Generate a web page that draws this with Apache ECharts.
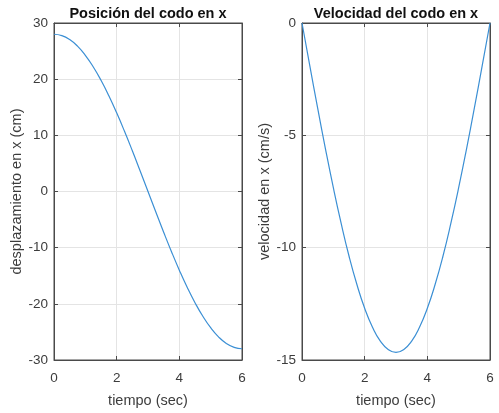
<!DOCTYPE html>
<html><head><meta charset="utf-8">
<script src="https://cdn.jsdelivr.net/npm/echarts@6/dist/echarts.min.js"></script>
<style>html,body{margin:0;padding:0;background:#fff}#c{width:499px;height:413px}</style>
</head><body><div id="c"></div>
<script>
var tiempo = [0,0.25,0.5,0.75,1,1.25,1.5,1.75,2,2.25,2.5,2.75,3,3.25,3.5,3.75,4,4.25,4.5,4.75,5,5.25,5.5,5.75,6];
var posicion = [28,27.76,27.05,25.87,24.25,22.21,19.8,17.05,14.0,10.72,7.25,3.65,0,-3.65,-7.25,-10.72,-14.0,-17.05,-19.8,-22.21,-24.25,-25.87,-27.05,-27.76,-28];
var velocidad = [0,-1.91,-3.79,-5.61,-7.33,-8.92,-10.37,-11.63,-12.7,-13.54,-14.16,-14.53,-14.66,-14.53,-14.16,-13.54,-12.7,-11.63,-10.37,-8.92,-7.33,-5.61,-3.79,-1.91,0];
var titulos = ['Posición del codo en x','Velocidad del codo en x'];
var yNombres = ['desplazamiento en x (cm)','velocidad en x (cm/s)'];
var xNombre = 'tiempo (sec)';

var F = 'Liberation Sans, Arial, Helvetica, sans-serif';
var axisCol = '#4a4a4a';
var labCol = '#3c3c3c';
var gridCol = '#e4e4e4';
function pairs(x,y){return x.map(function(v,i){return [v,y[i]];});}
var grids = [
  {left:54,top:23,width:188,height:340,show:true,borderColor:axisCol,borderWidth:1,containLabel:false},
  {left:302,top:23,width:188,height:340,show:true,borderColor:axisCol,borderWidth:1,containLabel:false}
];
function xMain(gi){return {gridIndex:gi,type:'value',min:0,max:6,interval:2,position:'bottom',
  name:xNombre,nameLocation:'middle',nameGap:33,nameTextStyle:{fontFamily:F,fontSize:14.5,color:labCol},
  axisLine:{show:true,onZero:false,lineStyle:{color:axisCol}},axisTick:{inside:true,length:4,lineStyle:{color:axisCol}},
  axisLabel:{fontFamily:F,fontSize:13.5,color:labCol,margin:11},
  splitLine:{show:true,lineStyle:{color:gridCol,width:1}}};}
function xTop(gi){return {gridIndex:gi,type:'value',min:0,max:6,interval:2,position:'top',
  axisLine:{show:true,onZero:false,lineStyle:{color:axisCol}},axisTick:{inside:true,length:4,lineStyle:{color:axisCol}},
  axisLabel:{show:false},splitLine:{show:false}};}
function yMain(gi,min,max,iv,name,gap){return {gridIndex:gi,type:'value',min:min,max:max,interval:iv,position:'left',
  name:name,nameLocation:'middle',nameGap:gap,nameTextStyle:{fontFamily:F,fontSize:14.5,color:labCol},
  axisLine:{show:true,onZero:false,lineStyle:{color:axisCol}},axisTick:{inside:true,length:4,lineStyle:{color:axisCol}},
  axisLabel:{fontFamily:F,fontSize:13.5,color:labCol,margin:6},
  splitLine:{show:true,lineStyle:{color:gridCol,width:1}}};}
function yRight(gi,min,max,iv){return {gridIndex:gi,type:'value',min:min,max:max,interval:iv,position:'right',
  axisLine:{show:true,onZero:false,lineStyle:{color:axisCol}},axisTick:{inside:true,length:4,lineStyle:{color:axisCol}},
  axisLabel:{show:false},splitLine:{show:false}};}
var chart = echarts.init(document.getElementById('c'),null,{renderer:'canvas'});
chart.setOption({
  animation:false,
  backgroundColor:'#fff',
  title:[
    {text:titulos[0],left:143,top:1,textAlign:'center',textStyle:{fontFamily:F,fontSize:14.5,fontWeight:'bold',color:'#111'}},
    {text:titulos[1],left:391,top:1,textAlign:'center',textStyle:{fontFamily:F,fontSize:14.5,fontWeight:'bold',color:'#111'}}
  ],
  grid:grids,
  xAxis:[xMain(0),xTop(0),xMain(1),xTop(1)],
  yAxis:[yMain(0,-30,30,10,yNombres[0],29),yRight(0,-30,30,10),yMain(1,-15,0,5,yNombres[1],27),yRight(1,-15,0,5)],
  series:[
    {type:'line',xAxisIndex:0,yAxisIndex:0,data:pairs(tiempo,posicion),smooth:true,showSymbol:false,lineStyle:{color:'#3b8fd4',width:1.2}},
    {type:'line',xAxisIndex:2,yAxisIndex:2,data:pairs(tiempo,velocidad),smooth:true,showSymbol:false,lineStyle:{color:'#3b8fd4',width:1.2}}
  ]
});
</script></body></html>
